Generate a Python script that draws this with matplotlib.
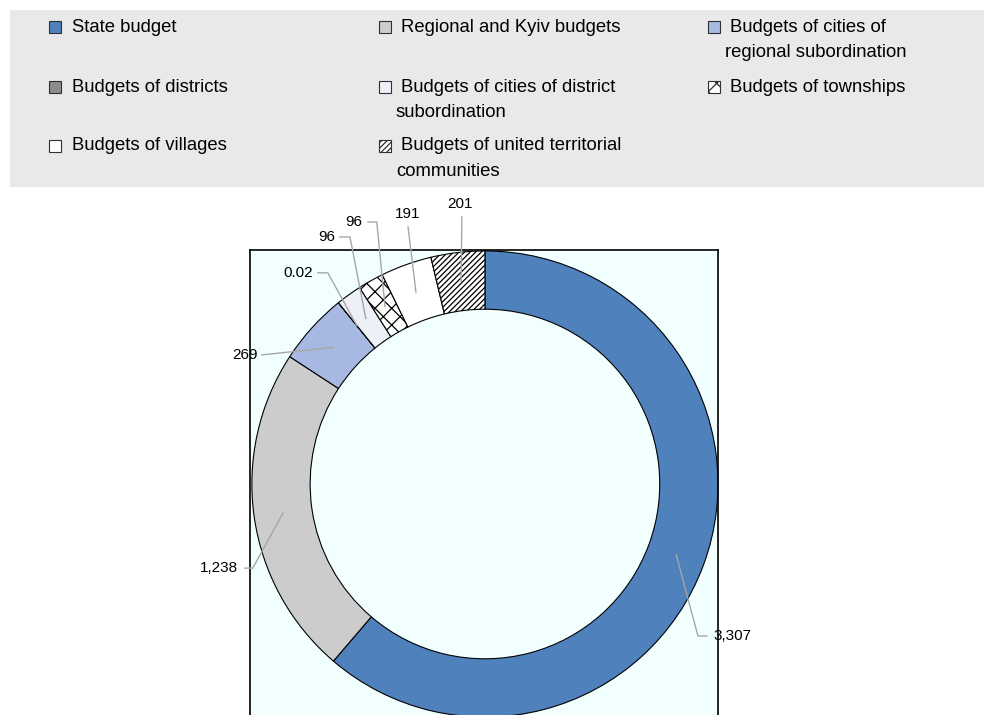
import matplotlib
matplotlib.use("Agg")
import matplotlib.pyplot as plt
from matplotlib import font_manager
from matplotlib.patches import Rectangle
import numpy as np

# ---------------- data ----------------
categories = [
    "State budget",
    "Regional and Kyiv budgets",
    "Budgets of cities of\nregional subordination",
    "Budgets of districts",
    "Budgets of cities of district\nsubordination",
    "Budgets of townships",
    "Budgets of villages",
    "Budgets of united territorial\ncommunities",
]
values = [3307, 1238, 269, 0.02, 96, 96, 191, 201]
value_labels = ["3,307", "1,238", "269", "0.02", "96", "96", "191", "201"]

# ---------------- styles ----------------
colors = ["#4F81BD", "#CCCCCC", "#A7B9E2", "#8C8C8C", "#EEF0F8", "#FFFFFF", "#FFFFFF", "#FFFFFF"]
hatches = [None, None, None, None, None, "xx", None, "//////"]

def pick_font():
    for name in ["Liberation Sans Narrow", "Arial Narrow"]:
        try:
            font_manager.findfont(name, fallback_to_default=False)
            return name, True
        except Exception:
            pass
    return "Liberation Sans", False

FONT, NARROW = pick_font()
plt.rcParams["font.family"] = [FONT, "DejaVu Sans"]
plt.rcParams["hatch.linewidth"] = 0.9
LEG_FS = 15.5 if NARROW else 13.3
LAB_FS = 13.0 if NARROW else 11.0

W, H = 984, 715
fig = plt.figure(figsize=(W / 100, H / 100), dpi=100)

def fx(px):
    return px / W

def fy(py):
    return 1 - py / H

# ---------------- legend panel ----------------
fig.add_artist(Rectangle((fx(10), fy(187)), fx(984) - fx(10), fy(10) - fy(187),
                         transform=fig.transFigure, facecolor="#E9E9E9", edgecolor="none", zorder=0))
col_marker_x = [49, 379, 708]
col_text_x = [72, 401, 730]
row_y = [27, 87, 146]
line_gap = 25.5
for i, (cat, col, hat) in enumerate(zip(categories, colors, hatches)):
    r, c = divmod(i, 3)
    y = row_y[r]
    mx = col_marker_x[c]
    fig.add_artist(Rectangle((fx(mx), fy(y + 6)), fx(12), 12 / H, transform=fig.transFigure,
                             facecolor=col, edgecolor="#303030", linewidth=0.8, hatch=hat, zorder=2))
    lines = cat.split("\n")
    for k, ln in enumerate(lines):
        tx = col_text_x[c] - (5 if k > 0 else 0)
        fig.text(fx(tx), fy(y + k * line_gap), ln, ha="left", va="center",
                 fontsize=LEG_FS, color="#000000")

# ---------------- donut ----------------
ax = fig.add_axes([fx(250), fy(718), fx(718) - fx(250), fy(250) - fy(718)])
wedges, _ = ax.pie(values, colors=colors, startangle=90, counterclock=False, radius=1.0,
                   wedgeprops=dict(width=0.25, edgecolor="black", linewidth=0.8))
for w, h in zip(wedges, hatches):
    if h:
        w.set_hatch(h)
ax.set_frame_on(True)
ax.set_facecolor("#F2FFFF")
ax.set_xlim(-1.008, 1.0)
ax.set_ylim(-1.004, 1.004)
ax.set_aspect("equal")
ax.set_xticks([])
ax.set_yticks([])
for s in ax.spines.values():
    s.set_visible(True)
    s.set_color("black")
    s.set_linewidth(1.2)

# label layout: (text xy, ha, elbow points)
label_layout = [
    ((0.979, -0.652), "left", [(0.914, -0.652), (0.952, -0.652)]),
    ((-1.060, -0.361), "right", [(-0.996, -0.361), (-1.030, -0.361)]),
    ((-0.974, 0.554), "right", [(-0.957, 0.554)]),
    ((-0.738, 0.906), "right", [(-0.674, 0.906), (-0.717, 0.906)]),
    ((-0.644, 1.058), "right", [(-0.579, 1.060), (-0.622, 1.060)]),
    ((-0.528, 1.124), "right", [(-0.464, 1.124), (-0.502, 1.124)]),
    ((-0.330, 1.160), "center", [(-0.330, 1.103)]),
    ((-0.107, 1.200), "center", [(-0.099, 1.146)]),
]
anchor_r = 0.875
for w, lab, (txy, ha, pts) in zip(wedges, value_labels, label_layout):
    mid = np.deg2rad((w.theta1 + w.theta2) / 2)
    ax_ = anchor_r * np.cos(mid)
    ay_ = anchor_r * np.sin(mid)
    xs = [ax_] + [p[0] for p in pts]
    ys = [ay_] + [p[1] for p in pts]
    ax.plot(xs, ys, color="#A6A6A6", linewidth=1.0, clip_on=False, zorder=5)
    ax.text(txy[0], txy[1], lab, ha=ha, va="center", fontsize=LAB_FS, color="black",
            clip_on=False, zorder=6)

fig.savefig("out.png", dpi=100)
